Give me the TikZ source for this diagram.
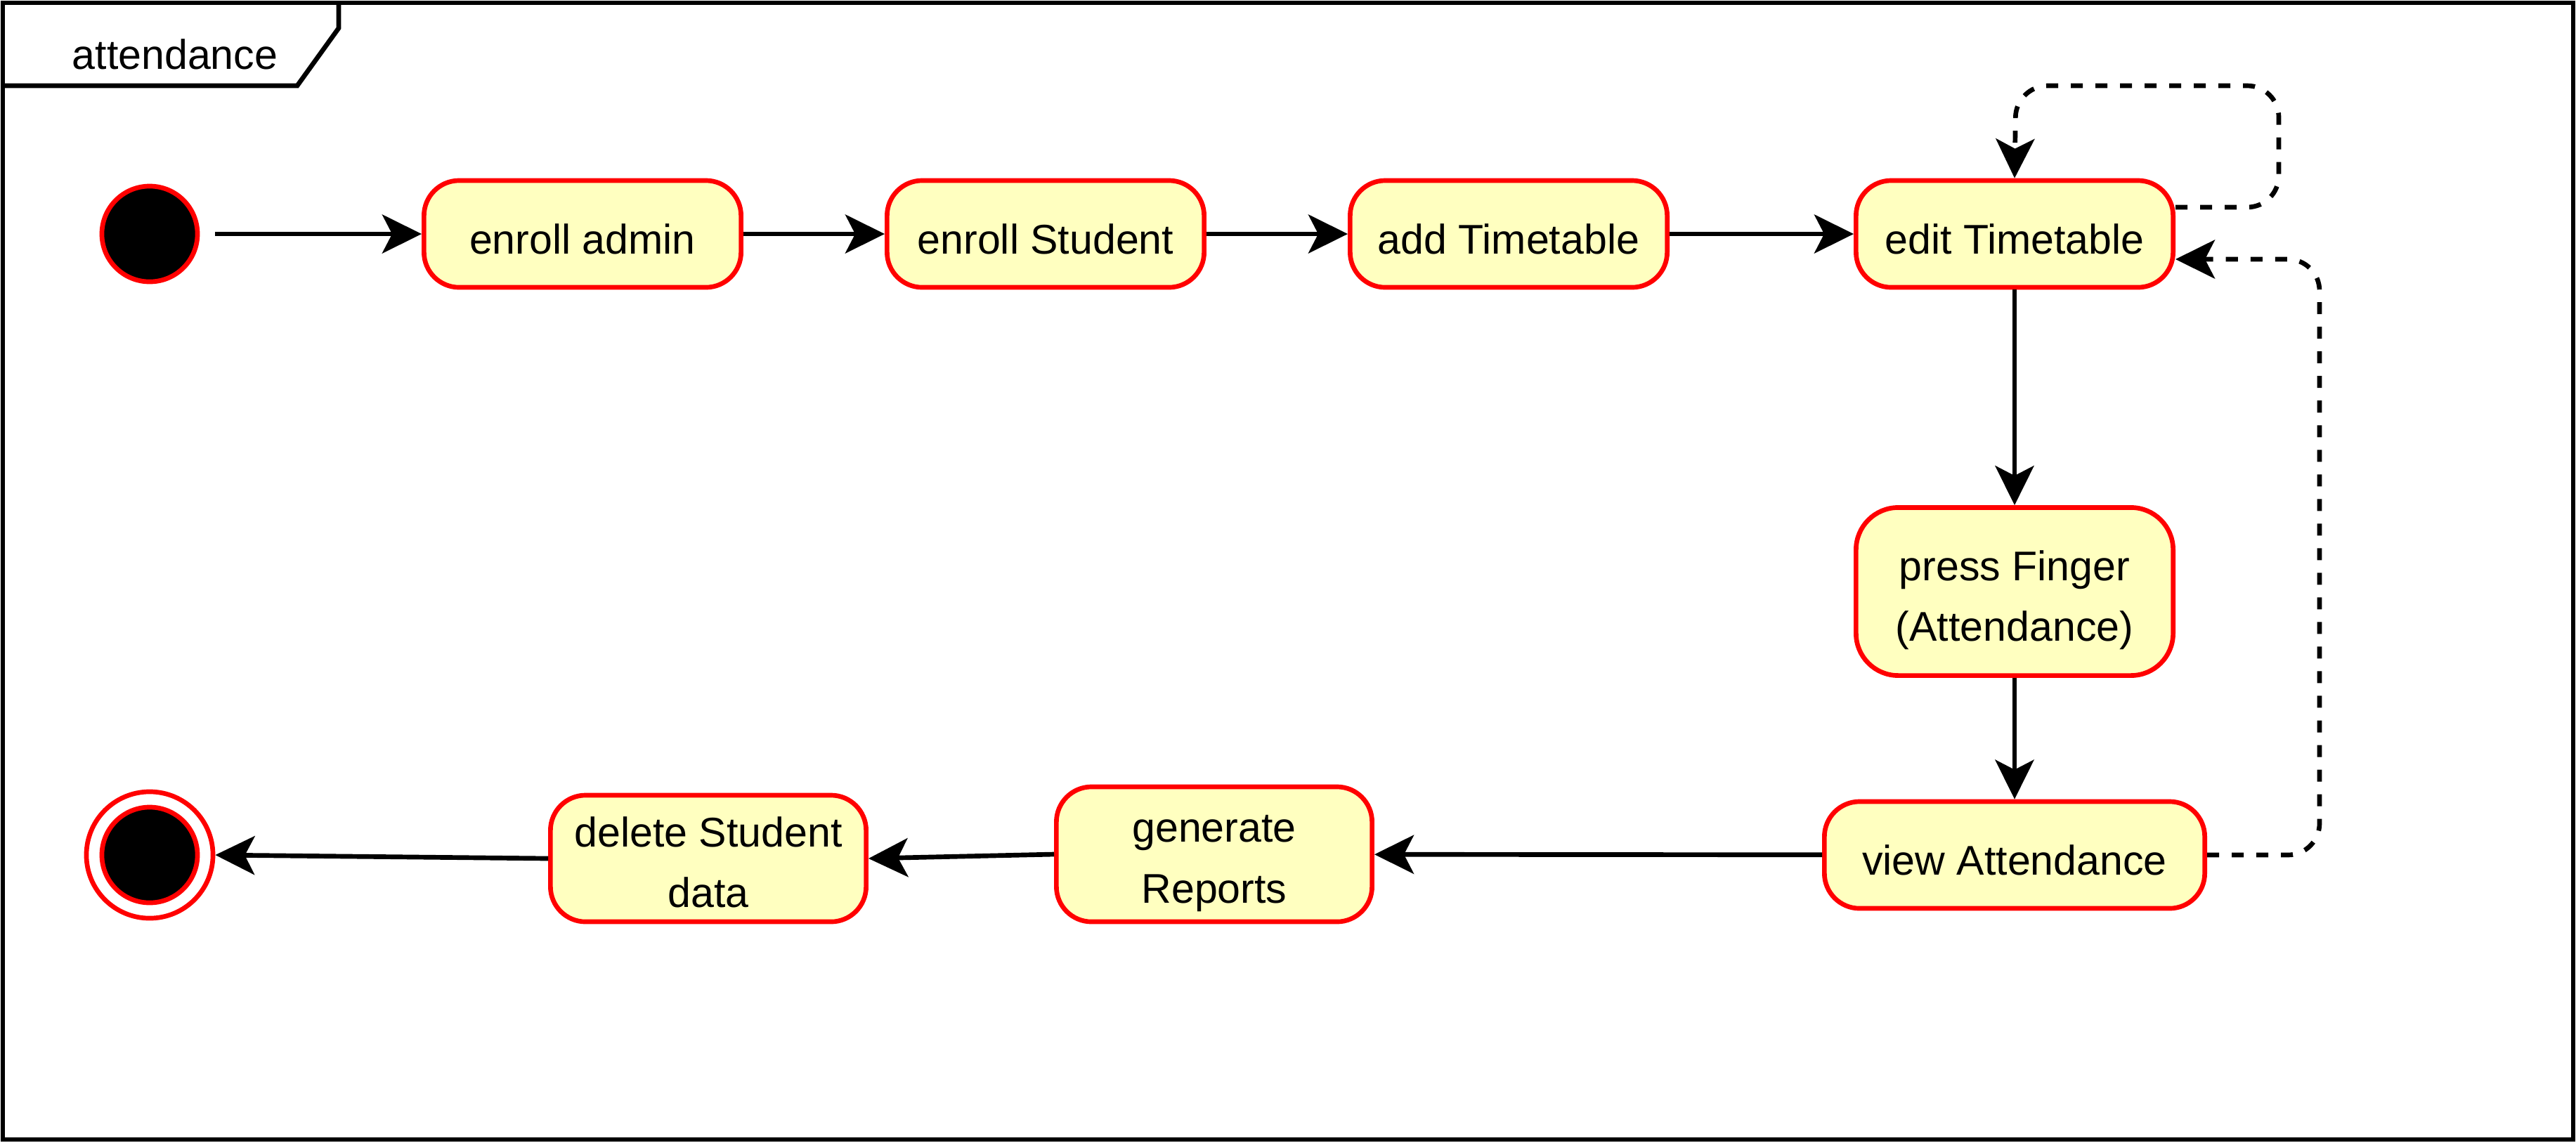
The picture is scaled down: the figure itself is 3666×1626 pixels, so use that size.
\documentclass[tikz,border=0pt]{standalone}
\usepackage{fontspec}
\setmainfont{Liberation Sans}
\usetikzlibrary{arrows.meta,calc}
\definecolor{boxfill}{HTML}{FFFFC0}
\definecolor{boxline}{HTML}{FF0000}
\newcommand\dn[2]{\raisebox{-#1}[\height][\depth]{#2}}
\begin{document}
\begin{tikzpicture}[x=0.01cm,y=-0.01cm,
  every node/.style={font=\fontsize{16.8}{24.5}\selectfont},
  actbox/.style={draw=boxline,fill=boxfill,line width=1.9pt,rounded corners=0.5cm,
    align=center,inner sep=0pt,minimum width=4.51cm,minimum height=1.52cm},
  startdot/.style={circle,draw=boxline,fill=black,line width=1.9pt,minimum size=1.36cm,inner sep=0pt},
  flow/.style={line width=1.9pt,-{Stealth[length=0.56cm,width=0.55cm,inset=0.14cm]}},
  dflow/.style={flow,dash pattern=on 0.17cm off 0.18cm,rounded corners=0.45cm}]
\useasboundingbox (0,0) rectangle (3666,1626);
% frame
\draw[line width=1.9pt] (4,4) rectangle (3662,1622);
\draw[line width=1.9pt] (4,122) -- (423,122) -- (482,40) -- (482,4);
\node (title) at (249,77) {attendance};
% nodes
\node[startdot] (start) at (213,333) {};
\node[actbox] (admin) at (829,333) {\dn{0.07cm}{enroll admin}};
\node[actbox] (student) at (1488,333) {\dn{0.07cm}{enroll Student}};
\node[actbox] (addtt) at (2147,333) {\dn{0.07cm}{add Timetable}};
\node[actbox] (edittt) at (2867,333) {\dn{0.07cm}{edit Timetable}};
\node[actbox,minimum height=2.39cm,rounded corners=0.6cm] (finger) at (2867,842) {\dn{0.12cm}{press Finger}\\\dn{0.12cm}{(Attendance)}};
\node[actbox,minimum width=5.41cm] (view) at (2867,1217) {\dn{0.07cm}{view Attendance}};
\node[actbox,minimum width=4.49cm,minimum height=1.92cm] (reports) at (1728,1216) {\dn{0.13cm}{generate}\\\dn{0.13cm}{Reports}};
\node[actbox,minimum width=4.49cm,minimum height=1.80cm] (delete) at (1008,1222) {\dn{0.05cm}{delete Student}\\\dn{0.05cm}{data}};
\node[circle,draw=boxline,fill=white,line width=1.9pt,minimum size=1.80cm,inner sep=0pt] (endo) at (213,1217) {};
\node[startdot] (endi) at (213,1217) {};
% connectors
\draw[flow,shorten <=0.22cm] (start) -- (admin);
\draw[flow] (admin) -- (student);
\draw[flow] (student) -- (addtt);
\draw[flow] (addtt) -- (edittt);
\draw[flow] (edittt) -- (finger);
\draw[flow] (finger) -- (view);
\draw[flow] (view) -- (reports);
\draw[flow] (reports.west) -- (delete.east);
\draw[flow] (delete.west) -- (endo.east);
\draw[dflow] ($(edittt.east)+(0,-38)$) -- (3243,295) |- (2869,122) -- (edittt.north);
\draw[dflow] (view.east) -- (3301,1217) |- ($(edittt.east)+(0,36)$);
\end{tikzpicture}
\end{document}
